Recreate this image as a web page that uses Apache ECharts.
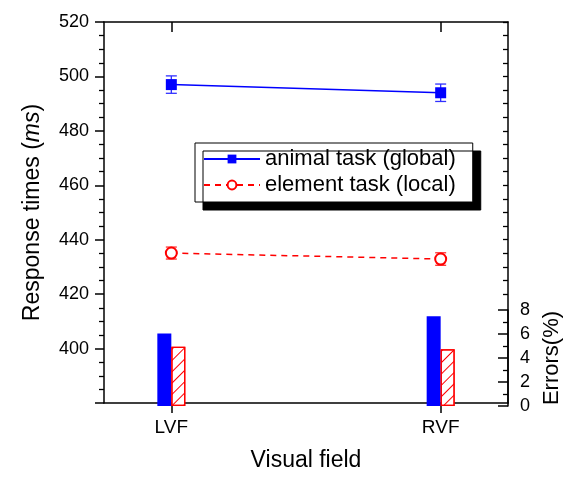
<!DOCTYPE html>
<html>
<head>
<meta charset="utf-8">
<script src="https://cdn.jsdelivr.net/npm/echarts@6/dist/echarts.min.js"></script>
<style>html,body{margin:0;padding:0;background:#fff;}#c{width:571px;height:477px;}</style>
</head>
<body>
<div id="c"></div>
<script>
// ---- data ----
const categories = ['LVF', 'RVF'];
const animalRT = [497.0, 494.0];
const animalRTErr = [3.2, 3.2];
const elementRT = [435.1, 432.9];
const elementRTErr = [2.2, 2.3];
const animalErrors = [6.05, 7.47];
const elementErrors = [4.93, 4.72];
const seriesNames = ['animal task (global)', 'element task (local)'];
const xAxisTitle = 'Visual field';
const rtAxisTitle = 'Response times ({i|ms})';
const errAxisTitle = 'Errors(%)';

// ---- helpers ----
const FONT = 'Liberation Sans, Arial, Helvetica, sans-serif';
const catPos = categories.map((c, i) => 0.5 + 2 * i);   // category centres on a 0..3 value axis
const mirrorTicks = [];
for (let v = 420; v <= 520; v += 5) mirrorTicks.push(v);
const pts = arr => arr.map((v, i) => [catPos[i], v]);

function errBars(name, vals, errs, color) {
  return {
    type: 'custom', name: name, xAxisIndex: 0, yAxisIndex: 0, z: 1,
    data: vals.map((v, i) => [catPos[i], v - errs[i], v + errs[i]]),
    encode: { x: 0, y: [1, 2] },
    renderItem: function (params, api) {
      const x = api.value(0);
      const lo = api.coord([x, api.value(1)]);
      const hi = api.coord([x, api.value(2)]);
      const hw = 5.5;
      const st = { stroke: color, lineWidth: 1.3 };
      return { type: 'group', children: [
        { type: 'line', shape: { x1: lo[0], y1: lo[1], x2: hi[0], y2: hi[1] }, style: st },
        { type: 'line', shape: { x1: lo[0] - hw, y1: lo[1], x2: lo[0] + hw, y2: lo[1] }, style: st },
        { type: 'line', shape: { x1: hi[0] - hw, y1: hi[1], x2: hi[0] + hw, y2: hi[1] }, style: st }
      ]};
    }
  };
}

const black = { color: '#000', width: 1.5 };
const chart = echarts.init(document.getElementById('c'), null, { renderer: 'canvas' });
chart.setOption({
  animation: false,
  backgroundColor: '#fff',
  textStyle: { fontFamily: FONT },
  grid: [
    { left: 104, right: 63, top: 22, bottom: 71 },
    { left: 104, right: 63, top: 310, bottom: 71 }
  ],
  xAxis: [
    { type: 'value', gridIndex: 0, position: 'bottom', min: 0, max: 3,
      name: xAxisTitle, nameLocation: 'middle', nameGap: 46,
      nameTextStyle: { fontSize: 23, color: '#000', fontFamily: FONT },
      axisLine: { show: true, onZero: false, lineStyle: black },
      axisTick: { show: true, length: 10, customValues: catPos, lineStyle: black },
      axisLabel: { show: true, customValues: catPos, margin: 15, fontSize: 19, color: '#000', fontFamily: FONT,
        formatter: v => categories[Math.round((v - 0.5) / 2)] },
      splitLine: { show: false } },
    { type: 'value', gridIndex: 0, position: 'top', min: 0, max: 3,
      axisLine: { show: true, onZero: false, lineStyle: black },
      axisTick: { show: true, inside: true, length: 10, customValues: catPos, lineStyle: black },
      axisLabel: { show: false }, splitLine: { show: false } },
    { type: 'value', gridIndex: 1, min: 0, max: 3, show: false }
  ],
  yAxis: [
    { type: 'value', gridIndex: 0, position: 'left', min: 380, max: 520, interval: 20,
      name: rtAxisTitle, nameLocation: 'middle', nameGap: 60,
      nameTextStyle: { fontSize: 23, color: '#000', fontFamily: FONT,
        rich: { i: { fontSize: 23, fontStyle: 'italic', color: '#000', fontFamily: FONT } } },
      axisLine: { show: true, onZero: false, lineStyle: black },
      axisTick: { show: true, length: 9, lineStyle: black },
      minorTick: { show: true, splitNumber: 4, length: 5, lineStyle: { color: '#000', width: 1.3 } },
      axisLabel: { showMinLabel: false, margin: 15, fontSize: 18, color: '#000', fontFamily: FONT },
      splitLine: { show: false } },
    { type: 'value', gridIndex: 0, position: 'right', min: 380, max: 520,
      axisLine: { show: true, onZero: false, lineStyle: black },
      axisTick: { show: true, inside: true, length: 5, customValues: mirrorTicks, lineStyle: { color: '#000', width: 1.3 } },
      axisLabel: { show: false }, splitLine: { show: false } },
    { type: 'value', gridIndex: 1, position: 'right', min: 0, max: 8, interval: 2,
      name: errAxisTitle, nameLocation: 'middle', nameGap: 32, nameRotate: 90,
      nameTextStyle: { fontSize: 22, color: '#000', fontFamily: FONT },
      axisLine: { show: true, onZero: false, lineStyle: black },
      axisTick: { show: true, inside: true, length: 10, lineStyle: black },
      minorTick: { show: true, splitNumber: 2, length: 5, lineStyle: { color: '#000', width: 1.3 } },
      axisLabel: { margin: 12, fontSize: 18, color: '#000', fontFamily: FONT },
      splitLine: { show: false } }
  ],
  legend: {
    data: seriesNames, orient: 'vertical', left: 195, top: 143,
    itemWidth: 56, itemHeight: 11, itemGap: 4, padding: [5, 17, 6, 8],
    backgroundColor: '#fff', borderColor: '#000', borderWidth: 1,
    shadowColor: '#000', shadowBlur: 0, shadowOffsetX: 8, shadowOffsetY: 8,
    selectedMode: false,
    textStyle: { fontSize: 22, color: '#000', fontFamily: FONT }
  },
  series: [
    errBars('animal err', animalRT, animalRTErr, '#3030ff'),
    errBars('element err', elementRT, elementRTErr, '#ff3030'),
    { type: 'line', name: seriesNames[0], xAxisIndex: 0, yAxisIndex: 0, z: 3,
      data: pts(animalRT), symbol: 'rect', symbolSize: 11,
      lineStyle: { color: '#0000ff', width: 1.5 }, itemStyle: { color: '#0000ff' } },
    { type: 'line', name: seriesNames[1], xAxisIndex: 0, yAxisIndex: 0, z: 3,
      data: pts(elementRT), symbol: 'emptyCircle', symbolSize: 11,
      lineStyle: { color: '#ff0000', width: 1.5, type: [6, 5] }, itemStyle: { color: '#ff0000', borderWidth: 1.3 } },
    { type: 'bar', name: 'animal errors', xAxisIndex: 2, yAxisIndex: 2,
      data: pts(animalErrors), barWidth: 14, barGap: '0%',
      itemStyle: { color: '#0000ff' } },
    { type: 'bar', name: 'element errors', xAxisIndex: 2, yAxisIndex: 2,
      data: pts(elementErrors), barWidth: 14, barGap: '0%',
      itemStyle: { color: '#fff', borderColor: '#ff0000', borderWidth: 1.2,
        decal: { symbol: 'rect', symbolSize: 1, color: '#ff0000', dashArrayX: [1, 0], dashArrayY: [1, 7], rotation: -Math.PI / 4 } } }
  ]
});
</script>
</body>
</html>
